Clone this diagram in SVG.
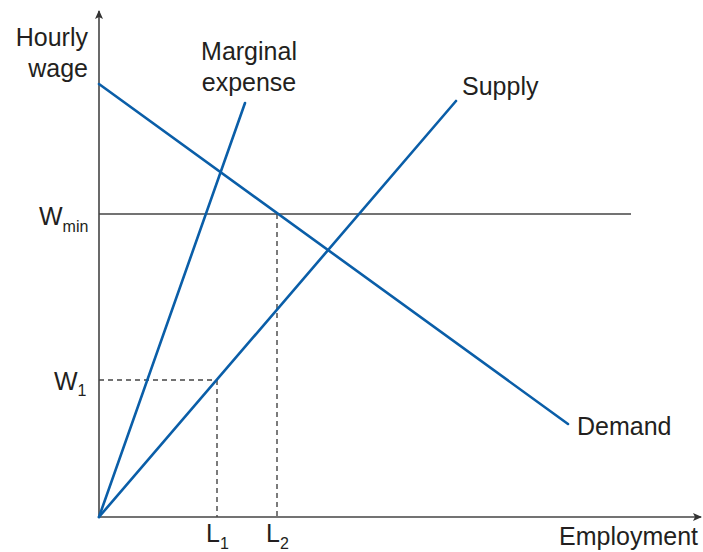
<svg xmlns="http://www.w3.org/2000/svg" width="703" height="552" viewBox="0 0 703 552">
<style>
text{font-family:"Liberation Sans",Arial,sans-serif;fill:#231f20;font-size:25px}
.sub{font-size:16px}
.ax{stroke:#444;stroke-width:1.6;fill:none}
.cur{stroke:#0a5ea8;stroke-width:2.6;fill:none;stroke-linecap:round}
.dash{stroke:#444;stroke-width:1.4;stroke-dasharray:5 4;fill:none}
</style>
<defs>
<marker id="arr" markerWidth="10" markerHeight="10" refX="8" refY="5" orient="auto" markerUnits="userSpaceOnUse">
<path d="M0,1 L9,5 L0,9 L2,5 Z" fill="#333"/>
</marker>
</defs>
<g id="connectors">
<line class="ax" x1="99" y1="517" x2="99" y2="11" marker-end="url(#arr)"/>
<line class="ax" x1="99" y1="517" x2="701" y2="517" marker-end="url(#arr)"/>
<line class="ax" x1="99" y1="214" x2="631" y2="214" stroke-width="1.4"/>
<line class="dash" x1="99" y1="380" x2="217" y2="380"/>
<line class="dash" x1="217" y1="380" x2="217" y2="517"/>
<line class="dash" x1="277" y1="214" x2="277" y2="517"/>
<line class="cur" x1="99" y1="84" x2="568" y2="424"/>
<line class="cur" x1="99" y1="517" x2="456" y2="101"/>
<line class="cur" x1="99" y1="517" x2="245" y2="103"/>
</g>
<g id="labels">
<text x="88" y="46" text-anchor="end">Hourly</text>
<text x="88" y="77" text-anchor="end">wage</text>
<text x="249" y="60" text-anchor="middle">Marginal</text>
<text x="249" y="91" text-anchor="middle">expense</text>
<text x="462" y="95">Supply</text>
<text x="577" y="435">Demand</text>
<text x="698" y="545" text-anchor="end">Employment</text>
<text x="39" y="225" font-size="27">W<tspan class="sub" font-size="17" dy="7">min</tspan></text>
<text x="54" y="390">W<tspan class="sub" dy="6">1</tspan></text>
<text x="206" y="542">L<tspan class="sub" dy="7">1</tspan></text>
<text x="266" y="542">L<tspan class="sub" dy="7">2</tspan></text>
</g>
</svg>
